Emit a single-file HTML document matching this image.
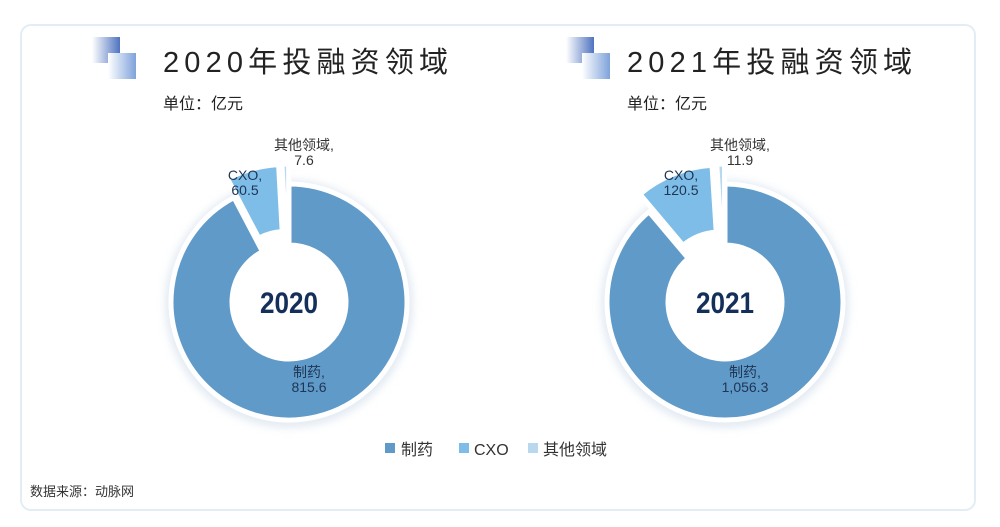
<!DOCTYPE html>
<html><head><meta charset="utf-8"><style>
body{margin:0;width:1000px;height:522px;background:#fff;overflow:hidden;font-family:"Liberation Sans","Noto Sans CJK SC",sans-serif}
</style></head><body>
<svg width="1000" height="522" xmlns="http://www.w3.org/2000/svg">
<defs>
<linearGradient id="sq1" x1="0" y1="0" x2="1" y2="0"><stop offset="0" stop-color="#fff"/><stop offset="1" stop-color="#4f73c0"/></linearGradient>
<linearGradient id="sq2" x1="0" y1="0" x2="1" y2="0"><stop offset="0" stop-color="#fff"/><stop offset="1" stop-color="#7ea2db"/></linearGradient>
<filter id="blur"><feGaussianBlur stdDeviation="5"/></filter>
</defs>
<rect x="21" y="25" width="954" height="485" rx="10" fill="#fff" stroke="#e3edf5" stroke-width="2"/>
<g>
<rect x="92" y="37" width="28" height="26" fill="url(#sq1)"/>
<rect x="108" y="53" width="28" height="26" fill="url(#sq2)"/>
<text x="163" y="72" font-size="29" textLength="285" lengthAdjust="spacing" fill="#222">2020年投融资领域</text>
<text x="163" y="109" font-size="16" fill="#222">单位：亿元</text>
</g>
<g>
<rect x="566" y="37" width="28" height="26" fill="url(#sq1)"/>
<rect x="582" y="53" width="28" height="26" fill="url(#sq2)"/>
<text x="627" y="72" font-size="29" textLength="285" lengthAdjust="spacing" fill="#222">2021年投融资领域</text>
<text x="627" y="109" font-size="16" fill="#222">单位：亿元</text>
</g>
<g id="donuts"></g>
<g font-size="16" fill="#333">
<rect x="385" y="443" width="10" height="10" fill="#5f9ac9"/>
<text x="401" y="455">制药</text>
<rect x="459" y="443" width="10" height="10" fill="#7dbde8"/>
<text x="474" y="455">CXO</text>
<rect x="528" y="443" width="10" height="10" fill="#b8d8f0"/>
<text x="543" y="455">其他领域</text>
</g>
<text x="30" y="496" font-size="13" fill="#333">数据来源：动脉网</text>
</svg>
<script>
const categories = ["制药", "CXO", "其他领域"];
const values2020 = [815.6, 60.5, 7.6];
const values2021 = [1056.3, 120.5, 11.9];
const labels2020 = ["815.6", "60.5", "7.6"];
const labels2021 = ["1,056.3", "120.5", "11.9"];
const colors = ["#5f9ac9", "#7dbde8", "#b8d8f0"];
const NS = "http://www.w3.org/2000/svg";
const root = document.getElementById("donuts");
function pt(cx, cy, r, a) { return [cx + r * Math.sin(a), cy - r * Math.cos(a)]; }
function donut(cx, cy, vals, labs, year) {
  const g = document.createElementNS(NS, "g");
  
  
  root.appendChild(g);
  const sh = document.createElementNS(NS, "circle");
  sh.setAttribute("cx", cx); sh.setAttribute("cy", cy + 2); sh.setAttribute("r", 118);
  sh.setAttribute("fill", "none"); sh.setAttribute("stroke", "#d4e0ec"); sh.setAttribute("stroke-width", "8"); sh.setAttribute("filter", "url(#blur)");
  
  
  g.appendChild(sh);
  const total = vals.reduce((a, b) => a + b, 0);
  const R = 118, r0 = 57;
  let a0 = 0;
  vals.forEach((v, i) => {
    const a1 = a0 + v / total * Math.PI * 2;
    const mid = (a0 + a1) / 2;
    const off = i === 0 ? 0 : 14;
    const ox = off * Math.sin(mid), oy = -off * Math.cos(mid);
    const Rr = R + (i === 0 ? 0 : 6);
    const p1 = pt(cx + ox, cy + oy, Rr, a0), p2 = pt(cx + ox, cy + oy, Rr, a1);
    const p3 = pt(cx + ox, cy + oy, r0, a1), p4 = pt(cx + ox, cy + oy, r0, a0);
    const large = (a1 - a0) > Math.PI ? 1 : 0;
    const path = document.createElementNS(NS, "path");
    path.setAttribute("d", `M${p1}A${Rr},${Rr} 0 ${large} 1 ${p2}L${p3}A${r0},${r0} 0 ${large} 0 ${p4}Z`);
    path.setAttribute("fill", colors[i]);
    path.setAttribute("stroke", "#fff");
    path.setAttribute("stroke-width", "5");
    
    
    g.appendChild(path);
    a0 = a1;
  });
  const lp = [[cx + 20, cy + 75], [cx - 44, cy - 122], [cx + 15, cy - 152]];
  vals.forEach((v, i) => {
    const t = document.createElementNS(NS, "text");
    t.setAttribute("x", lp[i][0]); t.setAttribute("y", lp[i][1]);
    t.setAttribute("text-anchor", "middle"); t.setAttribute("font-size", "14");
    t.setAttribute("fill", i === 2 ? "#333" : "#1f3552");
    
    
    const s1 = document.createElementNS(NS, "tspan"); s1.setAttribute("x", lp[i][0]); s1.textContent = categories[i] + ",";
    const s2 = document.createElementNS(NS, "tspan"); s2.setAttribute("x", lp[i][0]); s2.setAttribute("dy", "15"); s2.textContent = labs[i];
    t.appendChild(s1); t.appendChild(s2); g.appendChild(t);
  });
  const c = document.createElementNS(NS, "text");
  c.setAttribute("x", cx - 29); c.setAttribute("y", cy + 11);
  c.setAttribute("font-size", "30"); c.setAttribute("font-weight", "bold"); c.setAttribute("fill", "#14305a");
  c.setAttribute("textLength", "58"); c.setAttribute("lengthAdjust", "spacingAndGlyphs");
  
  
  c.textContent = year; g.appendChild(c);
}
donut(289, 302, values2020, labels2020, "2020");
donut(725, 302, values2021, labels2021, "2021");
</script>
</body></html>
